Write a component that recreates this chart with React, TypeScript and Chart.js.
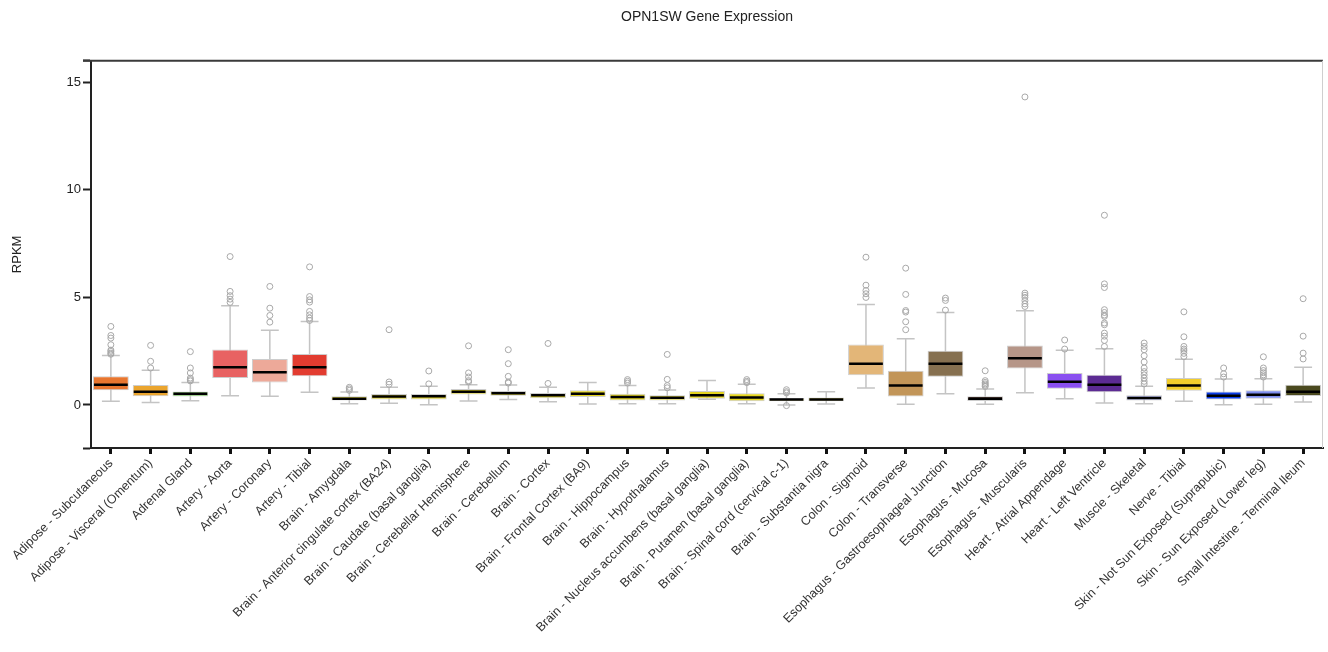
import React, { useEffect, useRef } from "react";
import { Chart, registerables } from "chart.js";

Chart.register(...registerables);

const categories = [
  "Adipose - Subcutaneous",
  "Adipose - Visceral (Omentum)",
  "Adrenal Gland",
  "Artery - Aorta",
  "Artery - Coronary",
  "Artery - Tibial",
  "Brain - Amygdala",
  "Brain - Anterior cingulate cortex (BA24)",
  "Brain - Caudate (basal ganglia)",
  "Brain - Cerebellar Hemisphere",
  "Brain - Cerebellum",
  "Brain - Cortex",
  "Brain - Frontal Cortex (BA9)",
  "Brain - Hippocampus",
  "Brain - Hypothalamus",
  "Brain - Nucleus accumbens (basal ganglia)",
  "Brain - Putamen (basal ganglia)",
  "Brain - Spinal cord (cervical c-1)",
  "Brain - Substantia nigra",
  "Colon - Sigmoid",
  "Colon - Transverse",
  "Esophagus - Gastroesophageal Junction",
  "Esophagus - Mucosa",
  "Esophagus - Muscularis",
  "Heart - Atrial Appendage",
  "Heart - Left Ventricle",
  "Muscle - Skeletal",
  "Nerve - Tibial",
  "Skin - Not Sun Exposed (Suprapubic)",
  "Skin - Sun Exposed (Lower leg)",
  "Small Intestine - Terminal Ileum",
];

const whiskerLow = [0.17, 0.12, 0.2, 0.43, 0.4, 0.59, 0.06, 0.08, 0.01, 0.19, 0.25, 0.15, 0.05, 0.06, 0.06, 0.27, 0.06, 0.0, 0.05, 0.79, 0.03, 0.52, 0.03, 0.57, 0.29, 0.09, 0.06, 0.17, 0.01, 0.03, 0.14];
const q1 = [0.68, 0.4, 0.39, 1.25, 1.05, 1.33, 0.21, 0.26, 0.26, 0.49, 0.43, 0.31, 0.37, 0.21, 0.21, 0.29, 0.17, 0.17, 0.17, 1.38, 0.39, 1.31, 0.19, 1.69, 0.76, 0.59, 0.21, 0.66, 0.25, 0.29, 0.42];
const median = [0.94, 0.62, 0.52, 1.75, 1.52, 1.75, 0.29, 0.39, 0.4, 0.62, 0.54, 0.45, 0.52, 0.37, 0.34, 0.45, 0.35, 0.25, 0.25, 1.92, 0.91, 1.92, 0.29, 2.17, 1.08, 0.94, 0.33, 0.9, 0.43, 0.48, 0.62];
const q3 = [1.33, 0.93, 0.63, 2.58, 2.14, 2.37, 0.4, 0.51, 0.51, 0.74, 0.65, 0.56, 0.68, 0.52, 0.45, 0.65, 0.54, 0.33, 0.35, 2.81, 1.59, 2.52, 0.4, 2.77, 1.49, 1.41, 0.45, 1.25, 0.63, 0.68, 0.94];
const whiskerHigh = [2.3, 1.61, 1.05, 4.61, 3.47, 3.88, 0.6, 0.82, 0.87, 0.94, 0.93, 0.82, 1.05, 0.91, 0.7, 1.14, 0.96, 0.52, 0.62, 4.67, 3.08, 4.3, 0.74, 4.38, 2.54, 2.61, 0.87, 2.12, 1.21, 1.22, 1.75];

const outliers = [
  [3.65, 3.23, 3.11, 2.8, 2.55, 2.49, 2.41, 2.36],
  [2.77, 2.03, 1.72],
  [2.48, 1.72, 1.49, 1.25, 1.18, 1.12],
  [6.9, 5.28, 5.08, 4.92, 4.77],
  [5.51, 4.5, 4.16, 3.85],
  [6.42, 5.04, 4.89, 4.78, 4.35, 4.19, 4.04, 3.93],
  [0.82, 0.75, 0.68],
  [3.5, 1.07, 0.96],
  [1.58, 0.98],
  [2.75, 1.49, 1.3, 1.13, 1.07],
  [2.57, 1.92, 1.33, 1.07, 1.02],
  [2.86, 1.0],
  [],
  [1.18, 1.1, 1.02],
  [2.35, 1.19, 0.9, 0.8],
  [],
  [1.18, 1.1, 1.04],
  [0.71, 0.62, 0.56, -0.03],
  [],
  [6.87, 5.57, 5.32, 5.17, 5.0],
  [6.36, 5.14, 4.39, 4.32, 3.87, 3.5],
  [4.97, 4.86, 4.41],
  [1.59, 1.13, 1.05, 0.98, 0.92, 0.86],
  [14.32, 5.2, 5.1, 5.0, 4.85, 4.7, 4.58],
  [3.02, 2.6],
  [8.82, 5.63, 5.46, 4.43, 4.3, 4.18, 4.12, 3.81, 3.73, 3.34, 3.2, 3.0, 2.72],
  [2.88, 2.72, 2.57, 2.29, 2.0, 1.72, 1.55, 1.4, 1.25, 1.1, 0.98],
  [4.33, 3.17, 2.72, 2.6, 2.52, 2.4, 2.25],
  [1.72, 1.45, 1.3],
  [2.24, 1.72, 1.6, 1.5, 1.4, 1.3],
  [4.94, 3.2, 2.41, 2.14],
];

const boxColors = [
  "#E8762F", "#EBA52E", "#5EBB3E", "#E86262", "#EDA999", "#E23C30",
  "#E3D320", "#E3D320", "#E3D320", "#E3D320", "#E3D320", "#E3D320", "#E3D320",
  "#E3D320", "#E3D320", "#E3D320", "#E3D320", "#E3D320", "#E3D320",
  "#E3B678", "#C29558", "#867050", "#3A1A0C", "#B69688",
  "#8A50F0", "#5C2B93", "#A8AEE8", "#F2CD2C", "#0B3CE6", "#7C8CEB", "#4B4A1F",
];

const yTicks = [-2, 0, 5, 10, 15, 16];
const yLabelled = [0, 5, 10, 15];

const FONT = "'Liberation Sans', Arial, Helvetica, sans-serif";

const boxPlugin = {
  id: "boxParts",
  beforeDatasetsDraw(chart: any) {
    const { ctx } = chart;
    const x = chart.scales.x;
    const y = chart.scales.y;
    const meta = chart.getDatasetMeta(0);
    ctx.save();
    ctx.strokeStyle = "#c4c4c4";
    ctx.lineWidth = 1.5;
    categories.forEach((_, i) => {
      const cx = x.getPixelForValue(i);
      const w = meta.data[i] ? meta.data[i].width : 36;
      const yl = y.getPixelForValue(whiskerLow[i]);
      const yh = y.getPixelForValue(whiskerHigh[i]);
      ctx.beginPath();
      ctx.moveTo(cx, yl);
      ctx.lineTo(cx, yh);
      ctx.moveTo(cx - w / 4, yl);
      ctx.lineTo(cx + w / 4, yl);
      ctx.moveTo(cx - w / 4, yh);
      ctx.lineTo(cx + w / 4, yh);
      ctx.stroke();
    });
    ctx.restore();
  },
  afterDatasetsDraw(chart: any) {
    const { ctx, chartArea } = chart;
    const x = chart.scales.x;
    const y = chart.scales.y;
    const meta = chart.getDatasetMeta(0);
    ctx.save();
    ctx.strokeStyle = "#000";
    ctx.lineWidth = 2.5;
    categories.forEach((_, i) => {
      const cx = x.getPixelForValue(i);
      const w = meta.data[i] ? meta.data[i].width : 36;
      const ym = y.getPixelForValue(median[i]);
      ctx.beginPath();
      ctx.moveTo(cx - w / 2 + 1, ym);
      ctx.lineTo(cx + w / 2 - 1, ym);
      ctx.stroke();
    });
    ctx.strokeStyle = "#3a3a3a";
    ctx.lineWidth = 2;
    ctx.beginPath();
    ctx.moveTo(chartArea.left - 8, chartArea.top);
    ctx.lineTo(chartArea.right, chartArea.top);
    ctx.stroke();
    ctx.strokeStyle = "#cfcfcf";
    ctx.lineWidth = 1;
    ctx.beginPath();
    ctx.moveTo(chartArea.right - 0.5, chartArea.top);
    ctx.lineTo(chartArea.right - 0.5, chartArea.bottom);
    ctx.stroke();
    ctx.restore();
  },
};

export default function App() {
  const canvasRef = useRef<HTMLCanvasElement | null>(null);

  useEffect(() => {
    document.body.style.margin = "0";
    const canvas = canvasRef.current;
    if (!canvas) return;

    const outlierPoints: { x: string; y: number }[] = [];
    outliers.forEach((list, i) => {
      list.forEach((v) => outlierPoints.push({ x: categories[i], y: v }));
    });

    const chart = new Chart(canvas, {
      type: "bar",
      data: {
        labels: categories,
        datasets: [
          {
            type: "bar",
            label: "box",
            data: categories.map((_, i) => [q1[i], q3[i]]),
            backgroundColor: boxColors,
            borderColor: "#cdcdcd",
            borderWidth: 1,
            borderSkipped: false,
            barPercentage: 0.9,
            categoryPercentage: 1.0,
          } as any,
          {
            type: "scatter",
            label: "outliers",
            data: outlierPoints as any,
            pointStyle: "circle",
            pointRadius: 3,
            pointBorderWidth: 1,
            pointBorderColor: "#a8a8a8",
            pointBackgroundColor: "rgba(255,255,255,0)",
            showLine: false,
          } as any,
        ],
      },
      options: {
        responsive: false,
        animation: false,
        devicePixelRatio: 1,
        layout: { padding: { left: 0, right: 1, top: 0, bottom: 0 } },
        plugins: {
          legend: { display: false },
          tooltip: { enabled: false },
          title: {
            display: true,
            fullSize: false,
            text: "OPN1SW Gene Expression",
            color: "#222",
            font: { family: FONT, size: 14, weight: "normal" },
            padding: { top: 9, bottom: 35 },
          },
        },
        scales: {
          x: {
            type: "category",
            offset: true,
            grid: {
              display: true,
              offset: false,
              drawOnChartArea: false,
              drawTicks: true,
              tickLength: 6,
              tickWidth: 3,
              tickColor: "#111",
            },
            border: { display: true, color: "#222", width: 2 },
            ticks: {
              autoSkip: false,
              maxRotation: 45,
              minRotation: 45,
              color: "#333",
              padding: 2,
              font: { family: FONT, size: 12.5 },
            },
            afterFit(scale: any) {
              scale.height = 204;
            },
          },
          y: {
            type: "linear",
            min: -2,
            max: 16,
            afterBuildTicks(axis: any) {
              axis.ticks = yTicks.map((v) => ({ value: v }));
            },
            afterFit(scale: any) {
              scale.width = 91;
            },
            grid: {
              display: true,
              drawOnChartArea: false,
              drawTicks: true,
              tickLength: 8,
              tickWidth: 2,
              tickColor: "#222",
            },
            border: { display: true, color: "#222", width: 2 },
            ticks: {
              color: "#222",
              padding: 2,
              font: { family: FONT, size: 13 },
              callback: (v: any) => (yLabelled.includes(Number(v)) ? String(v) : ""),
            },
            title: {
              display: true,
              text: "RPKM",
              color: "#222",
              font: { family: FONT, size: 13 },
              padding: { top: 10, bottom: 0 },
            },
          },
        },
      },
      plugins: [boxPlugin],
    });

    return () => chart.destroy();
  }, []);

  return (
    <div style={{ width: 1328, height: 652 }}>
      <canvas ref={canvasRef} width={1328} height={652} style={{ display: "block" }} />
    </div>
  );
}
